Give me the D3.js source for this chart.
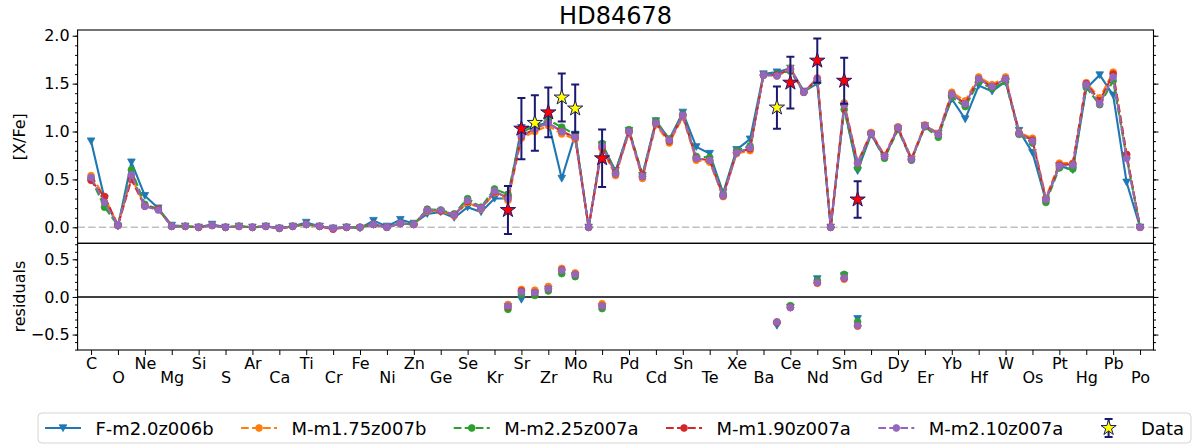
<!DOCTYPE html>
<html>
<head>
<meta charset="utf-8">
<script src="https://d3js.org/d3.v7.min.js"></script>
<style>
body { margin: 0; background: #fff; }
svg { display: block; font-family: "DejaVu Sans", sans-serif; }
</style>
</head>
<body>
<svg id="chart" width="1200" height="445"></svg>
<script>
// element symbols, Z = 6 .. 84
var elements = ["C","N","O","F","Ne","Na","Mg","Al","Si","P",
  "S","Cl","Ar","K","Ca","Sc","Ti","V","Cr","Mn",
  "Fe","Co","Ni","Cu","Zn","Ga","Ge","As","Se","Br",
  "Kr","Rb","Sr","Y","Zr","Nb","Mo","Tc","Ru","Rh",
  "Pd","Ag","Cd","In","Sn","Sb","Te","I","Xe","Cs",
  "Ba","La","Ce","Pr","Nd","Pm","Sm","Eu","Gd","Tb",
  "Dy","Ho","Er","Tm","Yb","Lu","Hf","Ta","W","Re",
  "Os","Ir","Pt","Au","Hg","Tl","Pb","Bi","Po"];

var modelNames = ["F-m2.0z006b", "M-m1.75z007b", "M-m2.25z007a", "M-m1.90z007a", "M-m2.10z007a"];
var modelColors = ["#1f77b4", "#ff7f0e", "#2ca02c", "#d62728", "#9467bd"];

var fm20z006b = [.90,.30,.01,.68,.33,.20,.02,.01,.00,.03,
  .00,.01,.00,.01,-.01,.01,.05,.01,-.01,.00,
  -.01,.07,.01,.08,.04,.14,.16,.10,.21,.16,
  .30,.30,1.04,1.05,1.10,.51,.97,0,.86,.59,
  1.01,.54,1.11,.92,1.20,.84,.77,.36,.81,.92,
  1.60,1.62,1.66,1.42,1.50,0,1.25,.59,.97,.73,
  1.03,.71,1.06,.98,1.34,1.13,1.48,1.42,1.52,1.01,
  .78,.28,.64,.60,1.45,1.59,1.38,.47,0];
var mm175z007b = [.54,.32,.02,.52,.23,.19,.01,.01,.00,.02,
  .00,.01,.00,.01,-.01,.01,.03,.01,-.01,.00,
  .00,.03,.00,.04,.03,.17,.17,.12,.26,.19,
  .36,.28,.93,1.00,1.06,.975,.92,0,.82,.54,
  .99,.51,1.07,.88,1.15,.70,.68,.32,.77,.80,
  1.59,1.58,1.66,1.41,1.56,0,1.30,.68,.99,.75,
  1.05,.72,1.07,.98,1.41,1.32,1.57,1.49,1.57,.99,
  .93,.31,.67,.67,1.51,1.35,1.62,.76,0];
var mm225z007a = [.51,.21,.02,.60,.24,.19,.01,.01,.00,.02,
  .00,.01,.00,.01,-.01,.01,.03,.01,-.01,.00,
  .00,.03,.00,.04,.03,.19,.18,.14,.30,.21,
  .40,.345,.99,1.06,1.12,1.045,.97,0,.875,.58,
  1.02,.55,1.11,.92,1.18,.74,.73,.35,.80,.85,
  1.59,1.60,1.63,1.41,1.52,0,1.23,.62,.97,.72,
  1.02,.70,1.05,.94,1.36,1.26,1.52,1.45,1.52,.97,
  .88,.26,.62,.61,1.46,1.28,1.53,.73,0];
var mm190z007a = [.49,.32,.02,.50,.22,.19,.01,.01,.00,.02,
  .00,.01,.00,.01,-.01,.01,.03,.01,-.02,.00,
  .00,.03,.00,.04,.03,.18,.17,.13,.27,.20,
  .37,.31,.95,1.03,1.09,1.00,.94,0,.84,.56,
  1.00,.53,1.09,.90,1.17,.72,.70,.33,.78,.82,
  1.59,1.59,1.65,1.41,1.55,0,1.28,.67,.98,.74,
  1.04,.71,1.06,.97,1.39,1.29,1.55,1.47,1.55,.98,
  .91,.29,.65,.66,1.50,1.32,1.60,.76,0];
var mm210z007a = [.52,.26,.02,.55,.22,.18,.01,.01,.00,.02,
  .00,.01,.00,.01,-.01,.01,.03,.01,-.01,.00,
  .00,.03,.00,.04,.03,.18,.18,.13,.28,.20,
  .38,.30,.96,1.03,1.09,1.00,.94,0,.85,.56,
  1.00,.53,1.09,.91,1.17,.72,.70,.33,.78,.83,
  1.59,1.58,1.65,1.41,1.55,0,1.28,.67,.98,.74,
  1.04,.71,1.06,.97,1.39,1.29,1.55,1.47,1.55,.98,
  .90,.29,.64,.65,1.49,1.29,1.57,.72,0];

// observed abundances
var obsElements = ["Rb","Sr","Y","Zr","Nb","Mo","Ru","La","Ce","Nd","Sm","Eu"];
var obsValues = [0.18, 1.03, 1.09, 1.20, 1.355, 1.24, 0.72, 1.25, 1.51, 1.74, 1.53, 0.29];
var obsErrors = [0.25, 0.32, 0.29, 0.26, 0.25, 0.25, 0.30, 0.22, 0.27, 0.23, 0.24, 0.19];
var obsRed = [true, true, false, true, false, false, true, false, true, true, true, true];

// residuals (data - model) for each model at the observed elements
var residF20 = [-0.13, -0.035, 0.05, 0.10, 0.85, 0.28, -0.13, -0.38, -0.14, 0.24, 0.28, -0.29];
var residM175 = [-0.10, 0.10, 0.09, 0.14, 0.38, 0.32, -0.09, -0.33, -0.14, 0.18, 0.235, -0.39];
var residM225 = [-0.165, 0.035, 0.02, 0.08, 0.31, 0.27, -0.155, -0.34, -0.115, 0.22, 0.30, -0.33];
var residM190 = [-0.13, 0.08, 0.06, 0.11, 0.36, 0.30, -0.12, -0.34, -0.14, 0.19, 0.25, -0.38];
var residM210 = [-0.12, 0.067, 0.058, 0.11, 0.355, 0.30, -0.12, -0.333, -0.142, 0.19, 0.253, -0.38];

var models = [fm20z006b, mm175z007b, mm225z007a, mm190z007a, mm210z007a];
var resids = [residF20, residM175, residM225, residM190, residM210];

var svg = d3.select("#chart");
var LEFT = 77.6, RIGHT = 1153.5;
var TOP1 = 30, BOT1 = 243.3, TOP2 = 243.3, BOT2 = 350;
var NAVY = "#191970";

var x = d3.scaleLinear().domain([-1, elements.length]).range([LEFT, RIGHT]);
var y1 = d3.scaleLinear().domain([-0.167, 2.06]).range([BOT1, TOP1]);
var y2 = d3.scaleLinear().domain([-0.705, 0.713]).range([BOT2, TOP2]);

var defs = svg.append("defs");
defs.append("clipPath").attr("id", "clip1").append("rect")
  .attr("x", LEFT).attr("y", TOP1).attr("width", RIGHT - LEFT).attr("height", BOT1 - TOP1);
defs.append("clipPath").attr("id", "clip2").append("rect")
  .attr("x", LEFT).attr("y", TOP2).attr("width", RIGHT - LEFT).attr("height", BOT2 - TOP2);

var triDown = "M-3.8,-3.2L3.8,-3.2L0,3.6Z";

function drawMarker(sel, k) {
  if (k === 0) {
    sel.append("path").attr("d", triDown).attr("fill", modelColors[k]).attr("stroke", modelColors[k]).attr("stroke-width", 0.8);
  } else {
    sel.append("circle").attr("r", 3.4).attr("fill", modelColors[k]).attr("stroke", modelColors[k]).attr("stroke-width", 0.8);
  }
}

function styleAxis(g) {
  g.select(".domain").remove();
  g.attr("font-size", 16).attr("font-family", "DejaVu Sans, sans-serif");
  g.selectAll("line").attr("stroke", "#000").attr("stroke-width", 1);
  g.selectAll("text").attr("fill", "#000");
}

// ---------- top panel ----------
var p1 = svg.append("g").attr("clip-path", "url(#clip1)");

p1.append("line")
  .attr("x1", LEFT).attr("x2", RIGHT)
  .attr("y1", y1(0)).attr("y2", y1(0))
  .attr("stroke", "#c0c0c0").attr("stroke-width", 1.5)
  .attr("stroke-dasharray", "7.4,3.2");

var line1 = d3.line().x(function (d, i) { return x(i); }).y(function (d) { return y1(d); });

models.forEach(function (vals, k) {
  var g = p1.append("g");
  g.append("path").datum(vals)
    .attr("d", line1)
    .attr("fill", "none")
    .attr("stroke", modelColors[k])
    .attr("stroke-width", 2.1)
    .attr("stroke-dasharray", k === 0 ? null : "7.7,3.3");
  g.selectAll("g.mk").data(vals).enter().append("g")
    .attr("class", "mk")
    .attr("transform", function (d, i) { return "translate(" + x(i) + "," + y1(d) + ")"; })
    .each(function () { drawMarker(d3.select(this), k); });
});

var star = d3.symbol().type(d3.symbolStar).size(72);

var obs = p1.selectAll("g.obs").data(obsElements).enter().append("g").attr("class", "obs");
obs.each(function (el, i) {
  var g = d3.select(this);
  var cx = x(elements.indexOf(el));
  var lo = y1(obsValues[i] - obsErrors[i]), hi = y1(obsValues[i] + obsErrors[i]);
  g.append("line").attr("x1", cx).attr("x2", cx).attr("y1", lo).attr("y2", hi)
    .attr("stroke", NAVY).attr("stroke-width", 2);
  [lo, hi].forEach(function (yy) {
    g.append("line").attr("x1", cx - 4).attr("x2", cx + 4).attr("y1", yy).attr("y2", yy)
      .attr("stroke", NAVY).attr("stroke-width", 2);
  });
  g.append("path").attr("d", star)
    .attr("transform", "translate(" + cx + "," + y1(obsValues[i]) + ")")
    .attr("fill", obsRed[i] ? "#ff0000" : "#ffff00")
    .attr("stroke", NAVY).attr("stroke-width", 1);
});

// ---------- bottom panel ----------
var p2 = svg.append("g").attr("clip-path", "url(#clip2)");
p2.append("line")
  .attr("x1", LEFT).attr("x2", RIGHT)
  .attr("y1", y2(0)).attr("y2", y2(0))
  .attr("stroke", "#000").attr("stroke-width", 1.5);

resids.forEach(function (vals, k) {
  p2.append("g").selectAll("g").data(vals).enter().append("g")
    .attr("transform", function (d, i) { return "translate(" + x(elements.indexOf(obsElements[i])) + "," + y2(d) + ")"; })
    .each(function () { drawMarker(d3.select(this), k); });
});

// ---------- axes ----------
var major1 = [0, 0.5, 1, 1.5, 2];
var minor1 = d3.range(-1, 21).map(function (d) { return d / 10; });
var major2 = [-0.5, 0, 0.5];
var minor2 = d3.range(-7, 8).map(function (d) { return d / 10; });
var fmt = d3.format(".1f");

svg.append("g").attr("transform", "translate(" + LEFT + ",0)")
  .call(d3.axisLeft(y1).tickValues(minor1).tickSize(2.5).tickFormat("")).call(styleAxis);
svg.append("g").attr("transform", "translate(" + LEFT + ",0)")
  .call(d3.axisLeft(y1).tickValues(major1).tickSize(5).tickFormat(fmt)).call(styleAxis);
svg.append("g").attr("transform", "translate(" + RIGHT + ",0)")
  .call(d3.axisRight(y1).tickValues(minor1).tickSize(2.5).tickFormat("")).call(styleAxis);
svg.append("g").attr("transform", "translate(" + RIGHT + ",0)")
  .call(d3.axisRight(y1).tickValues(major1).tickSize(5).tickFormat("")).call(styleAxis);

svg.append("g").attr("transform", "translate(" + LEFT + ",0)")
  .call(d3.axisLeft(y2).tickValues(minor2).tickSize(2.5).tickFormat("")).call(styleAxis);
svg.append("g").attr("transform", "translate(" + LEFT + ",0)")
  .call(d3.axisLeft(y2).tickValues(major2).tickSize(5).tickFormat(fmt)).call(styleAxis);
svg.append("g").attr("transform", "translate(" + RIGHT + ",0)")
  .call(d3.axisRight(y2).tickValues(minor2).tickSize(2.5).tickFormat("")).call(styleAxis);
svg.append("g").attr("transform", "translate(" + RIGHT + ",0)")
  .call(d3.axisRight(y2).tickValues(major2).tickSize(5).tickFormat("")).call(styleAxis);

var xAxis = svg.append("g").attr("transform", "translate(0," + BOT2 + ")")
  .call(d3.axisBottom(x).tickValues(d3.range(0, elements.length, 2)).tickSize(5)
    .tickFormat(function (i) { return elements[i]; }))
  .call(styleAxis);
xAxis.selectAll(".tick text").attr("y", function (d) { return d % 4 === 2 ? 22 : 8; });

// frames
[[TOP1, BOT1], [TOP2, BOT2]].forEach(function (b) {
  svg.append("rect").attr("x", LEFT).attr("y", b[0])
    .attr("width", RIGHT - LEFT).attr("height", b[1] - b[0])
    .attr("fill", "none").attr("stroke", "#000").attr("stroke-width", 1.1);
});

// titles
svg.append("text").attr("x", (LEFT + RIGHT) / 2).attr("y", 24)
  .attr("text-anchor", "middle").attr("font-size", 24).text("HD84678");
svg.append("text").attr("transform", "translate(19," + ((TOP1 + BOT1) / 2) + ") rotate(-90)")
  .attr("text-anchor", "middle").attr("dominant-baseline", "central")
  .attr("font-size", 16).text("[X/Fe]");
svg.append("text").attr("transform", "translate(19," + ((TOP2 + BOT2) / 2) + ") rotate(-90)")
  .attr("text-anchor", "middle").attr("dominant-baseline", "central")
  .attr("font-size", 16).text("residuals");

// ---------- legend ----------
var LEG_X0 = 38, LEG_X1 = 1191, LEG_Y0 = 413, LEG_Y1 = 443;
var LEG_FONT = 18, HANDLE = 36, TEXTPAD = 14.4, BORDERPAD = 7;
var legendLabels = modelNames.concat(["Data"]);

svg.append("rect").attr("x", LEG_X0).attr("y", LEG_Y0)
  .attr("width", LEG_X1 - LEG_X0).attr("height", LEG_Y1 - LEG_Y0)
  .attr("rx", 4).attr("fill", "#fff").attr("stroke", "#d5d5d5").attr("stroke-width", 1);

var legItems = svg.append("g").selectAll("g").data(legendLabels).enter().append("g");
legItems.append("text")
  .attr("x", HANDLE + TEXTPAD).attr("y", (LEG_Y0 + LEG_Y1) / 2)
  .attr("dominant-baseline", "central").attr("font-size", LEG_FONT)
  .text(function (d) { return d; });

var widths = [];
legItems.each(function () {
  widths.push(HANDLE + TEXTPAD + d3.select(this).select("text").node().getComputedTextLength());
});
var colSpace = (LEG_X1 - LEG_X0 - 2 * BORDERPAD - d3.sum(widths)) / (widths.length - 1);
var cursor = LEG_X0 + BORDERPAD;
var cy = (LEG_Y0 + LEG_Y1) / 2;
legItems.each(function (d, k) {
  var g = d3.select(this).attr("transform", "translate(" + cursor + ",0)");
  cursor += widths[k] + colSpace;
  if (k < modelNames.length) {
    g.append("line").attr("x1", 0).attr("x2", HANDLE).attr("y1", cy).attr("y2", cy)
      .attr("stroke", modelColors[k]).attr("stroke-width", 2.1)
      .attr("stroke-dasharray", k === 0 ? null : "7.7,3.3");
    var m = g.append("g").attr("transform", "translate(" + HANDLE / 2 + "," + cy + ")");
    drawMarker(m, k);
  } else {
    var hx = HANDLE / 2;
    g.append("line").attr("x1", hx).attr("x2", hx).attr("y1", cy - 9).attr("y2", cy + 9)
      .attr("stroke", NAVY).attr("stroke-width", 2);
    [cy - 9, cy + 9].forEach(function (yy) {
      g.append("line").attr("x1", hx - 4).attr("x2", hx + 4).attr("y1", yy).attr("y2", yy)
        .attr("stroke", NAVY).attr("stroke-width", 2);
    });
    g.append("path").attr("d", star).attr("transform", "translate(" + hx + "," + cy + ")")
      .attr("fill", "#ffff00").attr("stroke", NAVY).attr("stroke-width", 1);
  }
});
</script>
</body>
</html>
